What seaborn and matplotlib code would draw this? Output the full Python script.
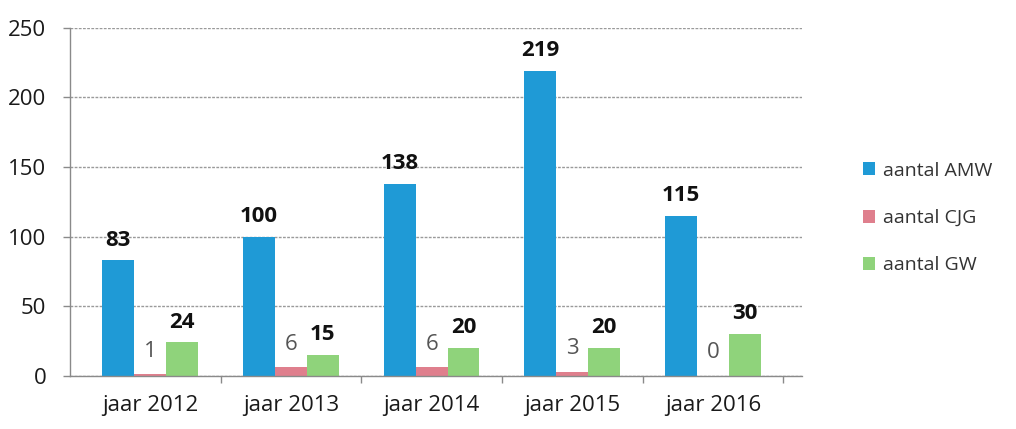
import matplotlib
matplotlib.use("Agg")
import matplotlib.pyplot as plt
import seaborn as sns
import pandas as pd
from matplotlib.patches import Patch

categories = ["jaar 2012", "jaar 2013", "jaar 2014", "jaar 2015", "jaar 2016"]
amw = [83, 100, 138, 219, 115]
cjg = [1, 6, 6, 3, 0]
gw = [24, 15, 20, 20, 30]
series = ["aantal AMW", "aantal CJG", "aantal GW"]
colors = ["#1f9ad6", "#df7f8d", "#8fd37b"]
yticks = [0, 50, 100, 150, 200, 250]

rows = []
for name, vals in zip(series, [amw, cjg, gw]):
    for c, v in zip(categories, vals):
        rows.append({"jaar": c, "serie": name, "aantal": v})
df = pd.DataFrame(rows)

sns.set_theme(style="white")
plt.rcParams["font.family"] = ["Open Sans", "DejaVu Sans"]

fig = plt.figure(figsize=(10.16, 4.29), dpi=100)
ax = fig.add_axes([0.069, 0.124, 0.72, 0.811])

sns.barplot(data=df, x="jaar", y="aantal", hue="serie", palette=colors,
            width=0.68, gap=0.0, ax=ax, legend=False, saturation=1,
            edgecolor="none")

ax.set_ylim(0, 250)
ax.set_xlim(-0.57, 4.63)
ax.set_yticks(yticks)
ax.set_xlabel("")
ax.set_ylabel("")
ax.yaxis.grid(True, color="#9a9a9a", linestyle=(0, (2, 1)), linewidth=1)
ax.set_axisbelow(True)
for s in ["top", "right"]:
    ax.spines[s].set_visible(False)
for s in ["left", "bottom"]:
    ax.spines[s].set_color("#8a8a8a")
    ax.spines[s].set_linestyle((0, (2, 1)))
    ax.spines[s].set_linewidth(1)
ax.tick_params(axis="y", labelsize=16, colors="#8a8a8a", labelcolor="#1a1a1a",
               length=5, width=1, direction="out", left=True, pad=12)
ax.tick_params(axis="x", labelsize=16, labelcolor="#1a1a1a", length=0, pad=14)
ax.set_xticks(range(len(categories)), minor=False)
ax.set_xticks([i + 0.5 for i in range(len(categories))], minor=True)
ax.tick_params(axis="x", which="minor", length=5, color="#8a8a8a", bottom=True)

for i, cont in enumerate(ax.containers):
    if i == 1:
        ax.bar_label(cont, labels=[str(v) for v in cjg], padding=9,
                     fontsize=16, color="#555555")
    else:
        vals = amw if i == 0 else gw
        ax.bar_label(cont, labels=[str(v) for v in vals], padding=7,
                     fontsize=16, fontweight="bold", color="#111111")

handles = [Patch(facecolor=c, edgecolor="none") for c in colors]
fig.legend(handles, series, loc="center left", bbox_to_anchor=(0.849, 0.492),
           frameon=False, fontsize=14, labelspacing=1.5, handlelength=0.65,
           handleheight=0.65, handletextpad=0.4, labelcolor="#333333",
           borderaxespad=0, borderpad=0)

fig.savefig("out.png", dpi=100)
